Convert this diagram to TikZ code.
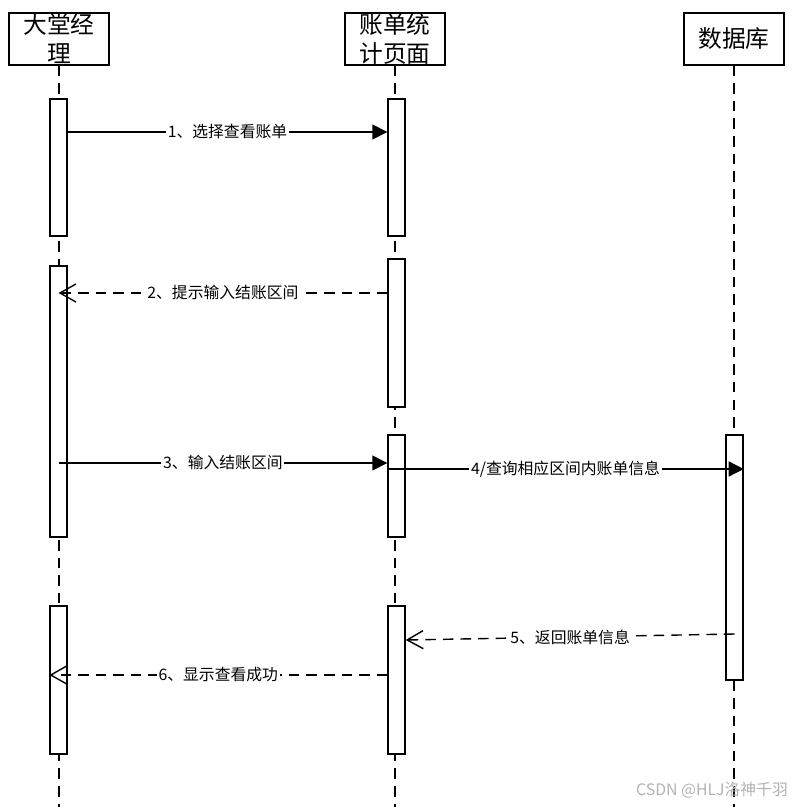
\documentclass[tikz,border=0pt]{standalone}
\usepackage{fontspec}
\setmainfont{Noto Sans CJK SC}
\usetikzlibrary{arrows.meta}

\tikzset{
  head/.style={draw, line width=0.8pt, minimum width=2cm, minimum height=1.04cm,
    inner sep=0pt, align=center, font=\fontsize{13.5}{16.5}\selectfont},
  bar/.style={draw, line width=0.8pt, fill=white, minimum width=0.34cm, inner sep=0pt},
  life/.style={line width=0.8pt, dash pattern=on 6pt off 4pt},
  call/.style={line width=0.8pt, -{Triangle[length=3mm,width=3mm]}},
  back/.style={line width=0.8pt, dash pattern=on 6pt off 4pt,
    -{Straight Barb[length=3.2mm,width=3.6mm]}},
  lbl/.style={fill=white, inner sep=1pt, font=\fontsize{9}{10}\selectfont}
}

\begin{document}
\begin{tikzpicture}[x=0.02cm, y=-0.02cm]
    \useasboundingbox (0,0) rectangle (801,807);
    % Heads
    \node[head] (h1) at (59,39) {大堂经\\理};
    \node[head] (h2) at (395,39) {账单统\\计页面};
    \node[head] (h3) at (734,39) {数据库};
    % Lifelines
    \foreach \h in {h1,h2,h3} {
        \draw[life] (\h.south) -- (\h.south |- 0,807);
    }
    % Activation bars
    \foreach \n/\x/\ya/\yb in {m1/58.5/99/236, m2/58.5/266/537, m3/58.5/606/754,
                               p1/396.5/99/236, p2/396.5/259/407, p3/396.5/435/537,
                               p4/396.5/606/754, d1/734.5/435/680} {
        \node[bar, minimum height={(\yb-\ya)*0.02cm}] (\n) at (\x,{(\ya+\yb)/2}) {};
    }
    % Messages
    \draw[call] (m1.east |- 0,132) -- node[lbl] {1、选择查看账单} (p1.west |- 0,132);
    \draw[back] (p2.west |- 0,293) -- node[lbl] {2、提示输入结账区间} (m2.center |- 0,293);
    \draw[call] (m2.center |- 0,463) -- node[lbl] {3、输入结账区间} (p3.west |- 0,463);
    \draw[call] (p3.west |- 0,469) -- node[lbl] {4/查询相应区间内账单信息} (d1.east |- 0,469);
    \draw[back] (d1.center |- 0,634) -- node[lbl] {5、返回账单信息} (p4.east |- 0,640);
    \draw[back] (p4.west |- 0,675) -- node[lbl] {6、显示查看成功} (m3.west |- 0,675);
    % Watermark
    \node[text=black!30, font=\fontsize{9}{10}\selectfont] (wm) at (712,790) {CSDN @HLJ洛神千羽};
\end{tikzpicture}
\end{document}
